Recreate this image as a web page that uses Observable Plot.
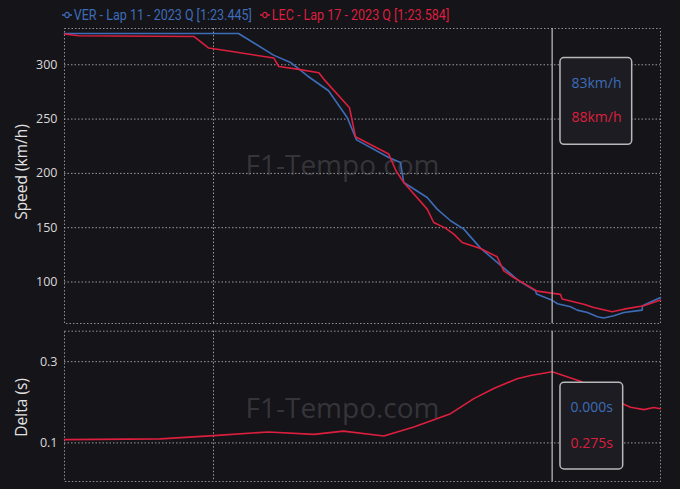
<!DOCTYPE html>
<html>
<head>
<meta charset="utf-8">
<script src="https://cdn.jsdelivr.net/npm/d3@7"></script>
<script src="https://cdn.jsdelivr.net/npm/@observablehq/plot@0.6"></script>
<style>
  html, body { margin: 0; padding: 0; background: #151419; }
  #wrap { position: relative; width: 680px; height: 489px; overflow: hidden; background: #151419; font-family: "Open Sans", sans-serif; }
  #legend { position: absolute; left: 62px; top: 6px; font-family: Roboto, sans-serif; font-size: 15px; white-space: nowrap; transform-origin: left center; transform: scaleX(0.835); }
  #legend span.item { display: inline-flex; align-items: center; margin-right: 10px; }
  #legend svg { margin-right: 2px; }
  #top { position: absolute; left: 0; top: 0; }
  #bot { position: absolute; left: 0; top: 325px; }
</style>
</head>
<body>
<div id="wrap">
  <div id="top"></div>
  <div id="bot"></div>
  <div id="legend"></div>
</div>
<script>
// ---- data ----
const verName = "VER - Lap 11 - 2023 Q [1:23.445]";
const lecName = "LEC - Lap 17 - 2023 Q [1:23.584]";
const verColor = "#3d6cb8";
const lecColor = "#dc1f3e";

const verDist = [900, 1016.8, 1040.3, 1051.7, 1062.9, 1077.2, 1089.7, 1096, 1117.6, 1125.5, 1127.7, 1143.4, 1150.1, 1159.1, 1168, 1179.2, 1190.4, 1204.9, 1216.1, 1216.8, 1227.3, 1230.9, 1239.6, 1244.1, 1251, 1257.7, 1261.9, 1268.7, 1275.4, 1287.7, 1287.9, 1300];
const verSpeed = [328.8, 328.8, 308.9, 302.1, 289.9, 276.1, 251.5, 230.9, 214.6, 210.0, 191.6, 177.8, 167.1, 156.4, 148.7, 131.2, 118.0, 101.1, 91.9, 88.9, 83.1, 80.0, 77.2, 74.1, 71.9, 68.0, 66.8, 68.9, 71.9, 74.1, 78.1, 85.7];

const lecDist = [900, 909.6, 986.8, 996.8, 1009.2, 1040.5, 1043.8, 1056.2, 1070.7, 1074, 1091.3, 1095.3, 1117.6, 1122.5, 1127.7, 1143.4, 1147.8, 1155.7, 1161.3, 1166.9, 1179.2, 1190.4, 1194.8, 1201.5, 1217.2, 1232.9, 1234, 1248.5, 1255.2, 1267.6, 1275.4, 1288.8, 1300];
const lecSpeed = [328.3, 326.7, 326.1, 315.4, 312.9, 306.2, 298.4, 296.0, 292.6, 286.8, 260.4, 233.7, 217.8, 202.4, 191.6, 167.1, 154.8, 149.6, 144.1, 136.4, 130.8, 123.2, 110.3, 104.1, 91.6, 88.6, 84.3, 79.6, 76.5, 72.6, 75.0, 78.1, 83.4];

const deltaDist = [900, 964.4, 1000.2, 1036.9, 1067.3, 1087.2, 1114.3, 1134.4, 1159.1, 1174.7, 1188.1, 1203.8, 1212.8, 1227.3, 1246.3, 1264.2, 1279.9, 1288.8, 1295.5, 1300];
const lecDelta = [0.108, 0.110, 0.118, 0.127, 0.121, 0.129, 0.117, 0.139, 0.172, 0.209, 0.234, 0.258, 0.266, 0.275, 0.252, 0.213, 0.188, 0.182, 0.187, 0.184];

const speedTicks = [100, 150, 200, 250, 300];
const deltaTicks = [0.1, 0.3];
const distGrid = [1000];
const cursorDist = 1227.3;
const speedTip = ["83km/h", "88km/h"];
const deltaTip = ["0.000s", "0.275s"];
const watermark = "F1-Tempo.com";

// ---- tables ----
const speedData = [
  ...verDist.map((d, i) => ({driver: "VER", dist: d, v: verSpeed[i]})),
  ...lecDist.map((d, i) => ({driver: "LEC", dist: d, v: lecSpeed[i]}))
];
const deltaData = deltaDist.map((d, i) => ({driver: "LEC", dist: d, v: lecDelta[i]}));

const gridStyle = {stroke: "#c9c9c9", strokeOpacity: 0.75, strokeDasharray: "1.5,2", strokeWidth: 1};
const frameStyle = {stroke: "#b0b0b0", strokeOpacity: 0.8, strokeDasharray: "1.5,2", strokeWidth: 1};
const colorScale = {domain: ["VER", "LEC"], range: [verColor, lecColor]};
const baseStyle = {background: "transparent", color: "#d9d9d9", fontFamily: "'Open Sans', sans-serif", fontSize: "12.5px"};

const topPlot = Plot.plot({
  width: 680, height: 330,
  marginTop: 28, marginBottom: 7, marginLeft: 64, marginRight: 20,
  style: baseStyle,
  x: {domain: [900, 1300], axis: null},
  y: {domain: [61.8, 333.4]},
  color: colorScale,
  marks: [
    Plot.gridY(speedTicks, gridStyle),
    Plot.gridX(distGrid, gridStyle),
    Plot.frame(frameStyle),
    Plot.text([watermark], {frameAnchor: "middle", text: d => d, dx: -20, dy: -10, fontSize: 28, fontWeight: 500, fill: "#6a6a70", fillOpacity: 0.4}),
    Plot.axisY({ticks: speedTicks, tickSize: 0, tickPadding: 7, label: null, fill: "#d9d9d9"}),
    Plot.text(["Speed (km/h)"], {frameAnchor: "left", textAnchor: "middle", text: d => d, rotate: -90, dx: -42, dy: -4, fontSize: 15.5, fill: "#e2e2e2"}),
    Plot.line(speedData, {x: "dist", y: "v", z: "driver", stroke: "driver", strokeWidth: 1.6}),
    Plot.ruleX([cursorDist], {stroke: "#a0a0a0", strokeWidth: 1.5}),
    Plot.rect([cursorDist], {x1: d => d, x2: d => d, insetLeft: 8.3, insetRight: -80, insetTop: 29.6, insetBottom: 178.7, rx: 4, fill: "#1c1c22", stroke: "#b8b8b8", strokeWidth: 1.5}),
    Plot.text([{t: speedTip[0], c: verColor}, {t: speedTip[1], c: lecColor}].map(o => ({...o, x: cursorDist})), {x: "x", frameAnchor: "top", text: "t", fill: d => d.c, dx: 44.3, fontSize: 14})
  ]
});
document.getElementById("top").appendChild(topPlot);

const botPlot = Plot.plot({
  width: 680, height: 164,
  marginTop: 5.7, marginBottom: 8, marginLeft: 64, marginRight: 20,
  style: baseStyle,
  x: {domain: [900, 1300], axis: null},
  y: {domain: [0.005, 0.375]},
  color: colorScale,
  marks: [
    Plot.gridY(deltaTicks, gridStyle),
    Plot.gridX(distGrid, gridStyle),
    Plot.frame(frameStyle),
    Plot.text([watermark], {frameAnchor: "middle", text: d => d, dx: -20, dy: 3, fontSize: 28, fontWeight: 500, fill: "#6a6a70", fillOpacity: 0.4}),
    Plot.axisY({ticks: deltaTicks, tickSize: 0, tickPadding: 7, label: null, fill: "#d9d9d9", tickFormat: d3.format(".1f")}),
    Plot.text(["Delta (s)"], {frameAnchor: "left", textAnchor: "middle", text: d => d, rotate: -90, dx: -42, dy: 1, fontSize: 15.5, fill: "#e2e2e2"}),
    Plot.line(deltaData, {x: "dist", y: "v", z: "driver", stroke: "driver", strokeWidth: 1.6}),
    Plot.ruleX([cursorDist], {stroke: "#a0a0a0", strokeWidth: 1.5}),
    Plot.rect([cursorDist], {x1: d => d, x2: d => d, insetLeft: 8.3, insetRight: -71, insetTop: 51.6, insetBottom: 12, rx: 4, fill: "#1c1c22", stroke: "#b8b8b8", strokeWidth: 1.5}),
    Plot.text([{t: deltaTip[0], c: verColor}, {t: deltaTip[1], c: lecColor}].map(o => ({...o, x: cursorDist})), {x: "x", frameAnchor: "top", text: "t", fill: d => d.c, dx: 39.5, fontSize: 14})
  ]
});
document.getElementById("bot").appendChild(botPlot);

// per-row vertical offsets for the tooltip texts
function offsetTips(svg, dys) {
  const groups = svg.querySelectorAll("g[aria-label='text']");
  const g = groups[groups.length - 1];
  g.querySelectorAll("text").forEach((t, i) => {
    const tr = t.getAttribute("transform") || "";
    t.setAttribute("transform", tr + ` translate(0,${dys[i]})`);
  });
}
offsetTips(topPlot, [49.6, 84]);
offsetTips(botPlot, [71, 106.6]);

// legend
const legend = document.getElementById("legend");
[[verName, verColor], [lecName, lecColor]].forEach(([name, col]) => {
  const s = document.createElement("span");
  s.className = "item";
  s.style.color = col;
  s.innerHTML = `<svg width="12" height="10"><line x1="0" y1="5" x2="12" y2="5" stroke="${col}" stroke-width="1.5"/><circle cx="6" cy="5" r="2.6" fill="#151419" stroke="${col}" stroke-width="1.3"/></svg>`;
  s.appendChild(document.createTextNode(name));
  legend.appendChild(s);
});
</script>
</body>
</html>
